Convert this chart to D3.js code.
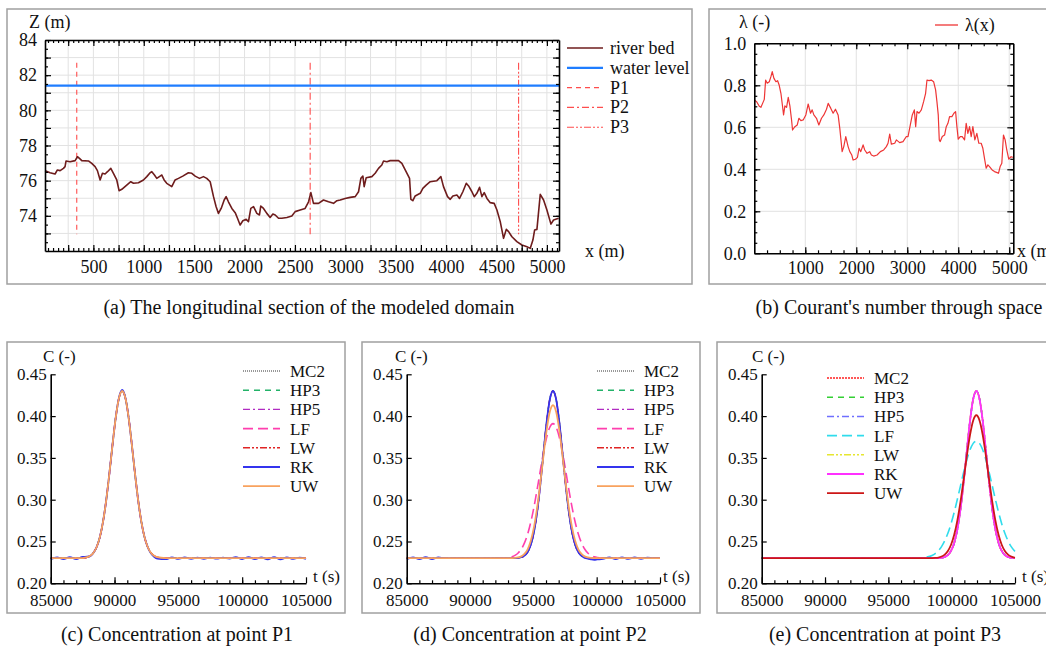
<!DOCTYPE html>
<html>
<head>
<meta charset="utf-8">
<script src="https://cdn.jsdelivr.net/npm/d3@7"></script>
<style>
body { margin: 0; background: #fff; }
svg { display: block; }
</style>
</head>
<body>
<svg id="fig" width="1046" height="647"></svg>
<script>
// ---------- data ----------
// (a) longitudinal section: [x (m), Z (m)]
var bedProfile = [[21,76.57],[70,76.45],[120,76.38],[143,76.61],[170,76.57],[203,76.70],[219,76.80],[229,77.12],[269,77.08],[319,77.14],
  [342,77.36],[362,77.27],[385,77.14],[451,77.12],[484,76.98],[517,76.80],[540,76.57],[567,76.04],[590,76.42],[616,76.38],
  [640,76.51],[673,76.70],[699,76.42],[732,76.04],[755,75.43],[782,75.51],[831,75.75],[871,75.94],[898,75.85],[947,75.88],
  [997,76.04],[1030,76.23],[1063,76.45],[1080,76.51],[1106,76.32],[1129,76.13],[1162,76.26],[1179,76.32],[1202,76.04],[1228,75.85],
  [1278,75.66],[1311,76.04],[1344,76.13],[1387,76.26],[1443,76.45],[1477,76.42],[1510,76.26],[1553,76.13],[1592,76.23],[1625,76.13],
  [1659,75.94],[1692,75.09],[1718,74.52],[1741,74.14],[1768,74.42],[1798,74.90],[1817,75.09],[1840,74.80],[1874,74.42],[1907,74.18],
  [1930,73.86],[1956,73.48],[1983,73.72],[2016,73.80],[2039,73.67],[2062,74.42],[2089,74.52],[2122,74.14],[2148,74.05],[2161,74.56],
  [2188,74.42],[2221,74.14],[2254,73.91],[2281,74.10],[2304,74.05],[2337,73.86],[2370,73.86],[2420,73.91],[2469,73.99],[2502,74.24],
  [2552,74.33],[2601,74.42],[2635,74.80],[2658,75.32],[2684,74.71],[2734,74.71],[2783,74.90],[2833,74.80],[2883,74.71],[2916,74.86],
  [2949,74.90],[2998,74.99],[3048,75.05],[3098,75.09],[3131,75.37],[3154,76.13],[3174,76.26],[3187,75.66],[3207,76.17],[3263,76.23],
  [3296,76.42],[3329,76.70],[3362,76.89],[3379,77.12],[3412,77.08],[3445,77.14],[3528,77.14],[3561,76.98],[3594,76.61],[3637,76.13],
  [3650,74.94],[3670,74.86],[3693,75.13],[3743,75.28],[3769,75.56],[3802,75.75],[3842,75.94],[3908,76.00],[3948,76.23],[3974,75.66],
  [4014,75.09],[4041,74.94],[4067,75.13],[4107,75.18],[4133,74.99],[4166,75.37],[4200,75.85],[4223,75.70],[4256,75.37],[4279,75.09],
  [4305,75.28],[4332,75.62],[4355,75.09],[4378,75.32],[4405,74.99],[4438,74.75],[4477,74.71],[4504,74.33],[4537,73.67],[4570,72.72],
  [4597,73.23],[4620,73.10],[4653,72.81],[4702,72.53],[4752,72.34],[4802,72.24],[4835,72.15],[4861,72.62],[4878,73.19],[4901,73.23],
  [4934,75.22],[4967,74.90],[5000,74.33],[5040,73.53],[5066,73.76],[5116,73.86]];
var waterLevel = [[20,81.4],[1000,81.4],[2000,81.4],[3000,81.4],[4000,81.4],[5120,81.4]];
var probeNames = ["P1","P2","P3"];
var probeX = [335, 2651, 4719];
var probeTop = 82.7, probeBottom = 72.95;
var aLegend = ["river bed","water level","P1","P2","P3"];
var aXTicks = [500,1000,1500,2000,2500,3000,3500,4000,4500,5000];
var aYTicks = [74,76,78,80,82,84];

// (b) Courant's number: [x (m), lambda]
var courant = [[0,0.730],[46,0.722],[98,0.700],[130,0.695],[163,0.714],[196,0.733],[222,0.825],[254,0.810],[294,0.817],[326,0.841],
  [352,0.865],[385,0.833],[424,0.817],[457,0.822],[489,0.800],[522,0.762],[555,0.698],[574,0.659],[600,0.702],[633,0.695],
  [666,0.743],[698,0.702],[731,0.635],[750,0.587],[796,0.603],[842,0.611],[874,0.643],[914,0.632],[959,0.635],[1011,0.659],
  [1057,0.711],[1103,0.667],[1135,0.683],[1168,0.659],[1220,0.643],[1266,0.611],[1318,0.643],[1364,0.659],[1416,0.686],[1449,0.714],
  [1501,0.690],[1546,0.667],[1592,0.686],[1644,0.659],[1677,0.595],[1723,0.484],[1755,0.508],[1794,0.556],[1840,0.508],[1873,0.484],
  [1912,0.468],[1938,0.444],[1984,0.448],[2023,0.457],[2055,0.500],[2088,0.484],[2134,0.516],[2166,0.492],[2212,0.476],[2264,0.484],
  [2297,0.468],[2342,0.463],[2408,0.468],[2473,0.484],[2538,0.492],[2590,0.508],[2623,0.524],[2656,0.568],[2688,0.520],[2754,0.524],
  [2786,0.540],[2851,0.527],[2917,0.532],[2982,0.556],[3015,0.556],[3060,0.611],[3099,0.659],[3139,0.683],[3165,0.603],[3191,0.675],
  [3230,0.667],[3276,0.683],[3321,0.722],[3360,0.762],[3387,0.825],[3426,0.822],[3471,0.825],[3517,0.817],[3556,0.778],[3582,0.722],
  [3608,0.659],[3628,0.540],[3647,0.532],[3687,0.556],[3732,0.563],[3765,0.603],[3798,0.619],[3830,0.651],[3876,0.651],[3915,0.667],
  [3948,0.675],[3974,0.603],[4000,0.543],[4039,0.556],[4078,0.556],[4124,0.540],[4156,0.619],[4189,0.571],[4222,0.603],[4254,0.556],
  [4287,0.603],[4326,0.540],[4365,0.571],[4404,0.524],[4450,0.524],[4483,0.500],[4515,0.452],[4548,0.405],[4581,0.421],[4613,0.413],
  [4665,0.397],[4711,0.389],[4763,0.384],[4789,0.381],[4822,0.413],[4855,0.429],[4887,0.563],[4920,0.540],[4952,0.492],[4991,0.448],
  [5037,0.460],[5070,0.457]];
var bXTicks = [1000,2000,3000,4000,5000];
var bYTicks = [0.0,0.2,0.4,0.6,0.8,1.0];

// (c)-(e) concentrations
var methods = ["MC2","HP3","HP5","LF","LW","RK","UW"];
var cXTicks = [85000,90000,95000,100000,105000];
var cYTicks = [0.20,0.25,0.30,0.35,0.40,0.45];

var tP1 = [85000,85500,86000,86500,87000,87500,
  87850,88100,88350,88600,88850,89100,89350,89600,89850,90100,90350,90600,90850,91100,91350,91600,91850,92100,92350,92600,92850,93100,93350,
  94000,94500,95000,95500,96000,96500,97000,97500,98000,98500,99000,99500,100000,100500,101000,101500,102000,102500,103000,103500,104000,104500,105000];
var p1Smooth = [0.2300,0.2300,0.2300,0.2300,0.2300,0.2302,
  0.2312,0.2329,0.2365,0.2434,0.2552,0.2737,0.2996,0.3317,0.3667,0.3989,0.4217,0.4300,0.4217,0.3989,0.3667,0.3317,0.2996,0.2737,0.2552,0.2434,0.2365,0.2329,0.2312,
  0.2301,0.2300,0.2300,0.2300,0.2300,0.2300,0.2300,0.2300,0.2300,0.2300,0.2300,0.2300,0.2300,0.2300,0.2300,0.2300,0.2300,0.2300,0.2300,0.2300,0.2300,0.2300,0.2300];
var p1RK = [0.2288,0.2311,0.2289,0.2312,0.2290,0.2316,
  0.2318,0.2325,0.2365,0.2434,0.2552,0.2737,0.2996,0.3317,0.3667,0.3989,0.4220,0.4312,0.4220,0.3989,0.3667,0.3317,0.2996,0.2737,0.2552,0.2434,0.2358,0.2318,0.2296,
  0.2288,0.2310,0.2291,0.2309,0.2292,0.2308,0.2293,0.2307,0.2294,0.2306,0.2295,0.2312,0.2290,0.2314,0.2289,0.2311,0.2286,0.2313,0.2287,0.2310,0.2291,0.2308,0.2292];

var tP2 = [85000,85500,86000,86500,87000,87500,88000,90000,92000,92500,
  93050,93300,93550,93800,94050,94300,94550,94800,95050,95300,95550,95800,96050,96300,96550,96800,97050,97300,97550,97800,98050,98300,98550,98800,99050,99300,99550,99800,100050,
  100500,101000,101500,102000,102500,103000,103500,104000,104500,105000];
var p2Exact = [0.2300,0.2300,0.2300,0.2300,0.2300,0.2300,0.2300,0.2300,0.2300,0.2300,
  0.2300,0.2300,0.2301,0.2304,0.2312,0.2331,0.2375,0.2461,0.2615,0.2854,0.3179,0.3560,0.3928,0.4200,0.4300,0.4200,0.3928,0.3560,0.3179,0.2854,0.2615,0.2461,0.2375,0.2331,0.2312,0.2304,0.2301,0.2300,0.2300,
  0.2300,0.2300,0.2300,0.2300,0.2300,0.2300,0.2300,0.2300,0.2300,0.2300];
var p2RK = [0.2288,0.2311,0.2289,0.2312,0.2290,0.2309,0.2300,0.2300,0.2300,0.2300,
  0.2300,0.2300,0.2301,0.2304,0.2312,0.2331,0.2375,0.2461,0.2615,0.2854,0.3179,0.3560,0.3928,0.4200,0.4300,0.4200,0.3928,0.3560,0.3179,0.2854,0.2615,0.2461,0.2375,0.2328,0.2305,0.2295,0.2286,0.2281,0.2285,
  0.2292,0.2310,0.2289,0.2311,0.2291,0.2309,0.2293,0.2308,0.2300,0.2300];
var p2UW = [0.2300,0.2300,0.2300,0.2300,0.2300,0.2300,0.2300,0.2300,0.2300,0.2300,
  0.2300,0.2301,0.2303,0.2309,0.2322,0.2351,0.2407,0.2509,0.2671,0.2905,0.3201,0.3528,0.3833,0.4051,0.4130,0.4051,0.3833,0.3528,0.3201,0.2905,0.2671,0.2509,0.2407,0.2351,0.2322,0.2309,0.2303,0.2301,0.2300,
  0.2300,0.2300,0.2300,0.2300,0.2300,0.2300,0.2300,0.2300,0.2300,0.2300];
var p2LF = [0.2300,0.2300,0.2300,0.2300,0.2300,0.2300,0.2300,0.2300,0.2300,0.2302,
  0.2308,0.2317,0.2334,0.2363,0.2410,0.2484,0.2590,0.2733,0.2914,0.3124,0.3349,0.3565,0.3746,0.3867,0.3910,0.3867,0.3746,0.3565,0.3349,0.3124,0.2914,0.2733,0.2590,0.2484,0.2410,0.2363,0.2334,0.2317,0.2308,
  0.2302,0.2300,0.2300,0.2300,0.2300,0.2300,0.2300,0.2300,0.2300,0.2300];

var tP3 = [85000,90000,95000,97000,97500,98000,
  98450,98700,98950,99200,99450,99700,99950,100200,100450,100700,100950,101200,101450,101700,101950,102200,102450,102700,102950,103200,103450,103700,103950,104200,104450,104700,104950,
  105000];
var p3Exact = [0.2300,0.2300,0.2300,0.2300,0.2300,0.2300,
  0.2300,0.2300,0.2302,0.2305,0.2315,0.2338,0.2388,0.2483,0.2645,0.2890,0.3216,0.3589,0.3945,0.4205,0.4300,0.4205,0.3945,0.3589,0.3216,0.2890,0.2645,0.2483,0.2388,0.2338,0.2315,0.2305,0.2302,
  0.2301];
var p3UW = [0.2300,0.2300,0.2300,0.2300,0.2300,0.2300,
  0.2301,0.2303,0.2308,0.2320,0.2343,0.2386,0.2461,0.2580,0.2753,0.2979,0.3247,0.3527,0.3775,0.3948,0.4010,0.3948,0.3775,0.3527,0.3247,0.2979,0.2753,0.2580,0.2461,0.2386,0.2343,0.2320,0.2308,
  0.2307];
var p3LF = [0.2300,0.2300,0.2300,0.2301,0.2303,0.2312,
  0.2333,0.2356,0.2390,0.2439,0.2508,0.2599,0.2713,0.2850,0.3005,0.3169,0.3332,0.3479,0.3597,0.3674,0.3700,0.3674,0.3597,0.3479,0.3332,0.3169,0.3005,0.2850,0.2713,0.2599,0.2508,0.2439,0.2390,
  0.2382];

var captions = ["(a) The longitudinal section of the modeled domain", "(b) Courant's number through space",
  "(c) Concentration at point P1", "(d) Concentration at point P2", "(e) Concentration at point P3"];

// ---------- drawing ----------
var FONT = '"Liberation Serif","Times New Roman",serif';
var svg = d3.select("#fig").attr("font-family", FONT);
svg.append("rect").attr("width", 1046).attr("height", 647).attr("fill", "#fff");

// panel frames
[[7,9,685,275],[709,9,345,275],[7,342,338,271],[362,342,338,271],[717,342,340,271]].forEach(function(f) {
  svg.append("rect").attr("x", f[0]).attr("y", f[1]).attr("width", f[2]).attr("height", f[3])
    .attr("fill", "none").attr("stroke", "#a0a0a0").attr("stroke-width", 1.5);
});

function styleAxis(g, size) {
  g.attr("font-family", FONT).attr("font-size", size);
  g.select(".domain").attr("stroke", "#000").attr("stroke-width", 1.6);
  g.selectAll(".tick line").attr("stroke", "#000").attr("stroke-width", 1.2);
  g.selectAll(".tick text").attr("fill", "#111");
}

function grid(g, x, y, xs, ys) {
  g.append("g").selectAll("line").data(xs).join("line")
    .attr("x1", function(d) { return x(d); }).attr("x2", function(d) { return x(d); })
    .attr("y1", y.range()[0]).attr("y2", y.range()[1])
    .attr("stroke", "#e2e2e2").attr("stroke-width", 1);
  g.append("g").selectAll("line").data(ys).join("line")
    .attr("y1", function(d) { return y(d); }).attr("y2", function(d) { return y(d); })
    .attr("x1", x.range()[0]).attr("x2", x.range()[1])
    .attr("stroke", "#e2e2e2").attr("stroke-width", 1);
}

// boxed axes with inward ticks on all sides (panels a, b)
function boxAxes(g, x, y, xMajor, xMinor, yMajor, yMinor, xFmt, yFmt, xPad, yPad) {
  var x0 = x.range()[0], x1 = x.range()[1], yb = y.range()[0], yt = y.range()[1];
  g.append("g").attr("transform", "translate(0," + yb + ")")
    .call(d3.axisBottom(x).tickValues(xMinor).tickSize(-3).tickSizeOuter(0).tickFormat(""))
    .call(function(a) { a.select(".domain").remove(); styleAxis(a, 18); });
  g.append("g").attr("transform", "translate(0," + yt + ")")
    .call(d3.axisTop(x).tickValues(xMinor).tickSize(-3).tickSizeOuter(0).tickFormat(""))
    .call(function(a) { a.select(".domain").remove(); styleAxis(a, 18); });
  g.append("g").attr("transform", "translate(" + x0 + ",0)")
    .call(d3.axisLeft(y).tickValues(yMinor).tickSize(-3).tickSizeOuter(0).tickFormat(""))
    .call(function(a) { a.select(".domain").remove(); styleAxis(a, 18); });
  g.append("g").attr("transform", "translate(" + x1 + ",0)")
    .call(d3.axisRight(y).tickValues(yMinor).tickSize(-3).tickSizeOuter(0).tickFormat(""))
    .call(function(a) { a.select(".domain").remove(); styleAxis(a, 18); });

  g.append("g").attr("transform", "translate(0," + yb + ")")
    .call(d3.axisBottom(x).tickValues(xMajor).tickSize(-6).tickSizeOuter(0).tickPadding(xPad).tickFormat(xFmt))
    .call(function(a) { styleAxis(a, 18); });
  g.append("g").attr("transform", "translate(0," + yt + ")")
    .call(d3.axisTop(x).tickValues(xMajor).tickSize(-6).tickSizeOuter(0).tickFormat(""))
    .call(function(a) { styleAxis(a, 18); });
  g.append("g").attr("transform", "translate(" + x0 + ",0)")
    .call(d3.axisLeft(y).tickValues(yMajor).tickSize(-6).tickSizeOuter(0).tickPadding(yPad).tickFormat(yFmt))
    .call(function(a) { styleAxis(a, 18); });
  g.append("g").attr("transform", "translate(" + x1 + ",0)")
    .call(d3.axisRight(y).tickValues(yMajor).tickSize(-6).tickSizeOuter(0).tickFormat(""))
    .call(function(a) { styleAxis(a, 18); });
}

function label(g, txt, x, y, size, anchor) {
  g.append("text").attr("x", x).attr("y", y).attr("font-size", size)
    .attr("text-anchor", anchor || "start").attr("fill", "#111").text(txt);
}

// ----- panel (a) -----
var ga = svg.append("g");
var xa = d3.scaleLinear().domain([20, 5120]).range([45, 559]);
var ya = d3.scaleLinear().domain([72, 84]).range([251, 40]);
grid(ga, xa, ya, d3.range(250, 5001, 250), d3.range(73, 84, 1));

var probeStyle = { P1: "5,4", P2: "7,3,2,3", P3: "7,2,2,2,2,2" };
var aStyle = {
  "river bed": { color: "#6e1c1c", width: 1.6, dash: null },
  "water level": { color: "#1f7dff", width: 2.2, dash: null },
  P1: { color: "#ff4d4d", width: 1.1, dash: probeStyle.P1 },
  P2: { color: "#ff4d4d", width: 1.1, dash: probeStyle.P2 },
  P3: { color: "#ff4d4d", width: 1.1, dash: probeStyle.P3 }
};

probeNames.forEach(function(p, i) {
  ga.append("line")
    .attr("x1", xa(probeX[i])).attr("x2", xa(probeX[i]))
    .attr("y1", ya(probeTop)).attr("y2", ya(probeBottom))
    .attr("stroke", aStyle[p].color).attr("stroke-width", aStyle[p].width)
    .attr("stroke-dasharray", aStyle[p].dash);
});
var lineA = d3.line().x(function(d) { return xa(d[0]); }).y(function(d) { return ya(d[1]); });
ga.append("path").datum(waterLevel).attr("d", lineA).attr("fill", "none")
  .attr("stroke", aStyle["water level"].color).attr("stroke-width", aStyle["water level"].width);
ga.append("path").datum(bedProfile).attr("d", lineA).attr("fill", "none")
  .attr("stroke", aStyle["river bed"].color).attr("stroke-width", aStyle["river bed"].width)
  .attr("stroke-linejoin", "round");

boxAxes(ga, xa, ya, d3.range(250, 5001, 250), d3.range(50, 5101, 50), d3.range(73, 84.5, 1), d3.range(72.5, 84, 0.5),
  function(d) { return aXTicks.indexOf(d) >= 0 ? d : ""; },
  function(d) { return aYTicks.indexOf(d) >= 0 ? d : ""; }, 9, 8);
label(ga, "Z (m)", 29, 28, 18);
label(ga, "x (m)", 585, 257, 18);

aLegend.forEach(function(n, i) {
  var yy = 48 + i * 19.8;
  ga.append("line").attr("x1", 567).attr("x2", 603).attr("y1", yy).attr("y2", yy)
    .attr("stroke", aStyle[n].color).attr("stroke-width", aStyle[n].width).attr("stroke-dasharray", aStyle[n].dash);
  label(ga, n, 610, yy + 6, 18);
});

// ----- panel (b) -----
var gb = svg.append("g");
var xb = d3.scaleLinear().domain([0, 5080]).range([754.3, 1013.3]);
var yb = d3.scaleLinear().domain([0, 1]).range([253.3, 43.3]);
grid(gb, xb, yb, [1000, 2000, 3000, 4000, 5000], [0.2, 0.4, 0.6, 0.8]);
gb.append("path").datum(courant)
  .attr("d", d3.line().x(function(d) { return xb(d[0]); }).y(function(d) { return yb(d[1]); }))
  .attr("fill", "none").attr("stroke", "#ee3535").attr("stroke-width", 1.2).attr("stroke-linejoin", "round");
boxAxes(gb, xb, yb, bXTicks, d3.range(250, 5080, 250), bYTicks, d3.range(0.05, 1, 0.05),
  function(d) { return d; }, d3.format(".1f"), 8, 8);
label(gb, "\u03bb (-)", 739, 28, 18);
label(gb, "x (m)", 1017, 257, 18);
gb.append("line").attr("x1", 935).attr("x2", 958).attr("y1", 25).attr("y2", 25)
  .attr("stroke", "#ee3535").attr("stroke-width", 1.3);
label(gb, "\u03bb(x)", 965, 31, 18);

// ----- panels (c)-(e) -----
var styleCD = {
  MC2: { color: "#333", width: 1, dash: "1,1" },
  HP3: { color: "#22b268", width: 1.4, dash: "6,5" },
  HP5: { color: "#b12bc2", width: 1.4, dash: "7,3,2,3" },
  LF:  { color: "#ff3fae", width: 1.6, dash: "10,5" },
  LW:  { color: "#e02424", width: 1.4, dash: "7,2,2,2,2,2" },
  RK:  { color: "#3434ee", width: 1.8, dash: null },
  UW:  { color: "#f8a25e", width: 1.8, dash: null }
};
var styleE = {
  MC2: { color: "#ff2020", width: 1.6, dash: "2,1" },
  HP3: { color: "#33d033", width: 1.5, dash: "6,5" },
  HP5: { color: "#6f6fff", width: 1.5, dash: "7,3,2,3" },
  LF:  { color: "#30dcec", width: 1.6, dash: "10,5" },
  LW:  { color: "#e6e630", width: 1.5, dash: "7,2,2,2,2,2" },
  RK:  { color: "#ff30ff", width: 1.8, dash: null },
  UW:  { color: "#cc1616", width: 1.8, dash: null }
};

function concPanel(x0, x1, times, series, styles, legX, legY, cx, tx) {
  var g = svg.append("g");
  var x = d3.scaleLinear().domain([85000, 105000]).range([x0, x1]);
  var y = d3.scaleLinear().domain([0.20, 0.45]).range([583.3, 374.3]);
  methods.forEach(function(m) {
    var s = styles[m];
    var ln = d3.line().curve(d3.curveMonotoneX)
      .x(function(d, i) { return x(times[i]); }).y(function(d) { return y(d); });
    g.append("path").datum(series[m]).attr("d", ln).attr("fill", "none")
      .attr("stroke", s.color).attr("stroke-width", s.width).attr("stroke-dasharray", s.dash);
  });
  g.append("g").attr("transform", "translate(0,583.3)")
    .call(d3.axisBottom(x).tickValues(d3.range(86000, 105000, 1000)).tickSize(-3).tickSizeOuter(0).tickFormat(""))
    .call(function(a) { a.select(".domain").remove(); styleAxis(a, 17); });
  g.append("g").attr("transform", "translate(0,583.3)")
    .call(d3.axisBottom(x).tickValues(cXTicks).tickSize(-6).tickSizeOuter(0).tickPadding(11).tickFormat(d3.format("d")))
    .call(function(a) { styleAxis(a, 17); });
  g.append("g").attr("transform", "translate(" + x0 + ",0)")
    .call(d3.axisLeft(y).tickValues(cYTicks).tickSize(-5).tickSizeOuter(0).tickPadding(4).tickFormat(d3.format(".2f")))
    .call(function(a) { styleAxis(a, 17); });
  label(g, "C (-)", cx, 362, 17);
  label(g, "t (s)", tx, 582, 17);
  methods.forEach(function(m, i) {
    var s = styles[m], yy = legY + i * 19.2;
    g.append("line").attr("x1", legX).attr("x2", legX + 37).attr("y1", yy).attr("y2", yy)
      .attr("stroke", s.color).attr("stroke-width", s.width).attr("stroke-dasharray", s.dash);
    label(g, m, legX + 47, yy + 6, 17);
  });
}

concPanel(50.7, 306, tP1,
  { MC2: p1Smooth, HP3: p1Smooth, HP5: p1Smooth, LF: p1Smooth, LW: p1Smooth, RK: p1RK, UW: p1Smooth },
  styleCD, 243, 371, 43, 313);
concPanel(406.7, 660, tP2,
  { MC2: p2Exact, HP3: p2Exact, HP5: p2Exact, LF: p2LF, LW: p2Exact, RK: p2RK, UW: p2UW },
  styleCD, 597, 371, 395, 663);
concPanel(761.7, 1015, tP3,
  { MC2: p3Exact, HP3: p3Exact, HP5: p3Exact, LF: p3LF, LW: p3Exact, RK: p3Exact, UW: p3UW },
  styleE, 827, 378, 752, 1022);

// captions
[[309, 314], [899, 314], [177, 641], [530, 641], [885, 641]].forEach(function(p, i) {
  label(svg, captions[i], p[0], p[1], 20, "middle");
});
</script>
</body>
</html>
